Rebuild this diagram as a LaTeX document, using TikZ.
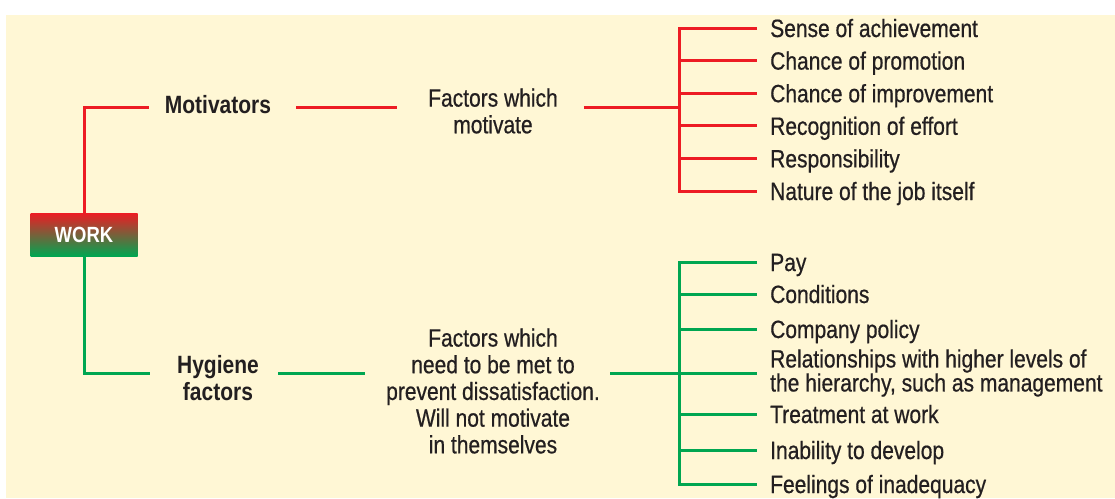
\documentclass[tikz,border=0pt]{standalone}
\usepackage{fontspec}
\setmainfont{Liberation Sans}[FakeStretch=0.84, UprightFeatures={FakeBold=0.6}]
\usepackage{tikz}

\definecolor{wred}{RGB}{237,28,36}
\definecolor{wgreen}{RGB}{0,166,81}
\definecolor{cream}{RGB}{255,247,213}
\definecolor{ink}{RGB}{35,31,32}

\tikzset{
	rl/.style={wred, line width=3pt},
	gl/.style={wgreen, line width=3pt},
	txt/.style={inner sep=0pt, align=center, text=ink},
	head/.style={txt, font=\fontsize{25}{26.7}\bfseries\selectfont},
	leaf/.style={anchor=west, inner sep=0pt, text=ink, text height=18pt, text depth=0pt}
}

\begin{document}
\begin{tikzpicture}[x=1pt, y=-1pt, font=\fontsize{25}{26.7}\selectfont]
	\useasboundingbox (0,0) rectangle (1115,498);
	\fill[cream] (6,15) rectangle (1115,498);
	
	\node[minimum width=107pt, minimum height=43pt, inner sep=0pt, top color=wred, bottom color=wgreen,
		text=white, font=\fontsize{22}{24}\bfseries\selectfont] (work) at (84,234.5) {WORK};
	
	% motivators
	\coordinate (mb) at (679,107);
	\node[head] (motiv) at (218,105) {Motivators};
	\node[txt] (mfact) at (493,111) {Factors which\\motivate};
	\draw[rl, shorten >=16pt] (work.north) |- (motiv.west |- mb);
	\draw[rl, shorten <=25pt, shorten >=31pt] (motiv.east |- mb) -- (mfact.west |- mb);
	\draw[rl, shorten <=26pt] (mfact.east |- mb) -- (mb);
	
	\foreach \t [count=\i] in {Sense of achievement, Chance of promotion, Chance of improvement,
		Recognition of effort, Responsibility, Nature of the job itself}
	\node[leaf] (m\i) at (770,{28+32.6*(\i-1)}) {\t};
	\draw[rl, shorten <=13pt, shorten >=13pt] (m1.west) -- (mb |- m1) -- (mb |- m6) -- (m6.west);
	\foreach \i in {2,...,5}
	\draw[rl, shorten >=13pt] (mb |- m\i) -- (m\i.west);
	
	% hygiene factors
	\coordinate (hb) at (679,373);
	\node[head] (hyg) at (218,378) {Hygiene\\factors};
	\node[txt] (hfact) at (493,391) {Factors which\\need to be met to\\prevent dissatisfaction.\\Will not motivate\\in themselves};
	\draw[gl, shorten >=27pt] (work.south) |- (hyg.west |- hb);
	\draw[gl, shorten <=19pt, shorten >=21pt] (hyg.east |- hb) -- (hfact.west |- hb);
	\draw[gl, shorten <=10pt] (hfact.east |- hb) -- (hb);
	
	\node[leaf] (h1) at (770,262) {Pay};
	\node[leaf] (h2) at (770,294) {Conditions};
	\node[leaf] (h3) at (770,329) {Company policy};
	\node[anchor=west, inner sep=0pt, text=ink, align=left, font=\fontsize{25}{24}\selectfont] (h4) at (770,373)
		{Relationships with higher levels of\\the hierarchy, such as management};
	\node[leaf] (h5) at (770,414) {Treatment at work};
	\node[leaf] (h6) at (770,450) {Inability to develop};
	\node[leaf] (h7) at (770,484) {Feelings of inadequacy};
	\draw[gl, shorten <=13pt, shorten >=13pt] (h1.west) -- (hb |- h1) -- (hb |- h7) -- (h7.west);
	\foreach \i in {2,...,6}
	\draw[gl, shorten >=13pt] (hb |- h\i) -- (h\i.west);
\end{tikzpicture}
\end{document}
